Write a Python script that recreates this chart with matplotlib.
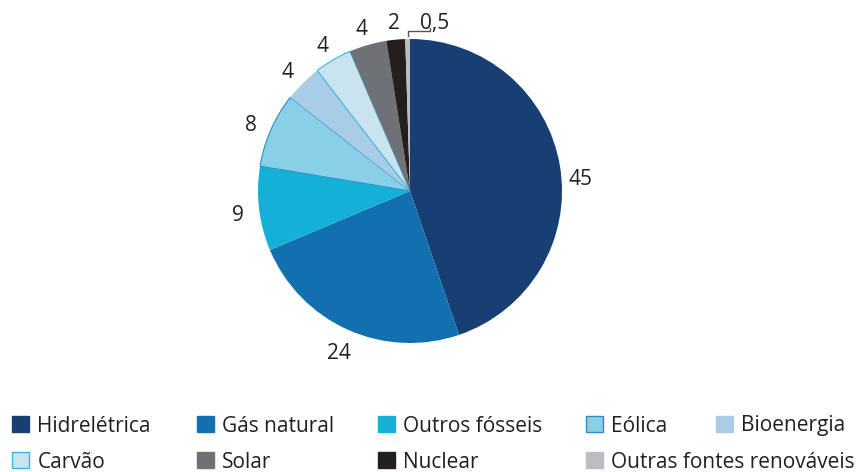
import numpy as np
import matplotlib.pyplot as plt
from matplotlib.patches import Patch

plt.rcParams['font.family'] = ['Open Sans', 'DejaVu Sans']

# data
sources = ['Hidrelétrica', 'Gás natural', 'Outros fósseis', 'Eólica', 'Bioenergia',
           'Carvão', 'Solar', 'Nuclear', 'Outras fontes renováveis']
values = [45, 24, 9, 8, 4, 4, 4, 2, 0.5]
value_labels = ['45', '24', '9', '8', '4', '4', '4', '2', '0,5']

colors = ['#173f73', '#1170ad', '#15b0d8', '#88cfe8', '#a9cde8',
          '#c9e4ef', '#6f7174', '#231f20', '#bcbdc0']
edges = ['none', 'none', 'none', '#2a8fc7', 'none', '#3ab7df', 'none', 'none', 'none']

fig = plt.figure(figsize=(8.64, 4.72), dpi=100)
ax = fig.add_axes([220 / 864, 91 / 472, 380 / 864, 380 / 472])

pie_labels = value_labels[:-1] + ['']
wedges, texts = ax.pie(values, labels=pie_labels, colors=colors, startangle=90,
                       counterclock=False, labeldistance=1.14,
                       textprops=dict(fontsize=15, color='#231f20', ha='center', va='center'),
                       wedgeprops=dict(linewidth=0.8))
for w, ec in zip(wedges, edges):
    if ec == 'none':
        w.set_linewidth(0)
    else:
        w.set_edgecolor(ec)

# nudge labels down a little (the big slice label sits lower in the original)
for i, t in enumerate(texts):
    x, y = t.get_position()
    dy = -0.03 if i > 0 else -0.11
    t.set_position((x, y + dy))

ax.set_xlim(-1.25, 1.25)
ax.set_ylim(-1.25, 1.25)
ax.set_aspect('equal')
ax.axis('off')

# leader for the tiny slice
w = wedges[-1]
ang = np.deg2rad((w.theta1 + w.theta2) / 2)
x0 = np.cos(ang)
ax.plot([x0, x0, x0 + 0.145, x0 + 0.145],
        [1.02, 1.05, 1.05, 1.07], color='#555555', lw=1)
ax.text(x0 + 0.18, 1.105, value_labels[-1], fontsize=15, color='#231f20',
        ha='center', va='center')

# legend, placed item by item
leg_x = [12, 197, 378, 586, 716, 12, 197, 378, 586]
leg_y = [426, 426, 426, 426, 426, 462, 462, 462, 462]
for name, c, ec, lx, ly in zip(sources, colors, edges, leg_x, leg_y):
    h = Patch(facecolor=c, edgecolor=(c if ec == 'none' else ec), linewidth=1)
    leg = fig.legend(handles=[h], labels=[name], loc='center left',
                     bbox_to_anchor=(lx / 864, 1 - ly / 472), frameon=False,
                     borderpad=0, borderaxespad=0, handletextpad=0.42,
                     handlelength=0.8, handleheight=0.8, fontsize=15)
    for t in leg.get_texts():
        t.set_color('#231f20')

fig.savefig('out.png', dpi=100)
